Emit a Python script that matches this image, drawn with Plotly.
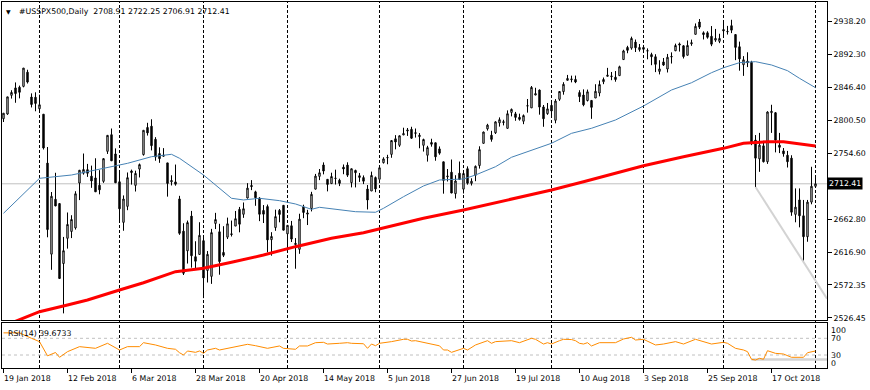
import pandas as pd
import plotly.graph_objects as go

# ---------------- DATA ----------------
symbol_title = "#USSPX500,Daily"
last_ohlc_text = "2708.91 2722.25 2706.91 2712.41"
rsi_title = "RSI(14) 39.6733"
bid_price = 2712.41
bid_text = "2712.41"

# trading bars: weekdays 19 Jan 2018 .. 1 Nov 2018, Good Friday closed
first_day, last_day = "2018-01-19", "2018-11-01"
closed_days = ["2018-03-30"]

opens = [
    2802.6, 2809.2, 2835.1, 2845.4, 2846.3, 2847.5, 2867.2, 2832.7, 2832.4, 2816.5,
    2808.9, 2741.1, 2614.8, 2690.9, 2685.0, 2601.8, 2636.8, 2646.3, 2651.2, 2713.5,
    2727.1, 2732.0, 2723.0, 2720.5, 2710.4, 2715.8, 2757.4, 2780.5, 2753.8, 2715.2,
    2658.9, 2681.1, 2730.2, 2710.2, 2732.8, 2752.9, 2790.5, 2792.3, 2774.1, 2754.3,
    2750.6, 2741.4, 2715.1, 2715.0, 2691.4, 2646.7, 2619.4, 2667.6, 2611.3, 2614.4,
    2633.5, 2592.2, 2584.0, 2657.4, 2645.8, 2617.2, 2638.4, 2643.0, 2653.8, 2676.9,
    2670.1, 2692.7, 2710.1, 2701.2, 2692.6, 2675.4, 2680.8, 2634.9, 2651.7, 2675.5,
    2682.5, 2643.0, 2654.2, 2628.1, 2621.5, 2680.3, 2670.3, 2678.1, 2705.0, 2722.7,
    2738.5, 2718.6, 2712.6, 2719.7, 2717.4, 2735.4, 2738.3, 2714.0, 2730.9, 2723.6,
    2721.0, 2705.1, 2702.4, 2721.0, 2718.7, 2741.7, 2748.5, 2753.2, 2774.8, 2765.8,
    2780.2, 2785.6, 2787.9, 2783.2, 2777.8, 2765.8, 2752.0, 2769.7, 2769.3, 2760.8,
    2742.9, 2722.1, 2728.5, 2698.7, 2727.1, 2705.0, 2733.3, 2713.0, 2724.2, 2737.7,
    2768.5, 2788.6, 2779.8, 2783.1, 2796.9, 2797.4, 2789.3, 2811.4, 2809.4, 2804.6,
    2799.2, 2820.7, 2817.7, 2835.5, 2842.4, 2819.0, 2809.7, 2821.2, 2800.5, 2829.6,
    2840.3, 2855.9, 2856.8, 2857.2, 2838.9, 2835.5, 2827.9, 2828.0, 2831.4, 2838.3,
    2853.9, 2861.5, 2861.0, 2860.3, 2862.4, 2884.7, 2901.5, 2900.6, 2908.9, 2898.4,
    2901.5, 2897.0, 2891.6, 2888.6, 2868.3, 2881.4, 2871.6, 2888.3, 2896.9, 2906.4,
    2903.8, 2890.7, 2906.6, 2919.7, 2936.8, 2921.8, 2921.8, 2917.0, 2911.7, 2910.0,
    2926.3, 2923.8, 2931.7, 2919.4, 2902.5, 2877.5, 2882.5, 2881.0, 2773.0, 2747.0,
    2765.0, 2743.0, 2811.0, 2811.0, 2766.0, 2758.0, 2752.0, 2748.0, 2670.0, 2690.0,
    2668.0, 2639.0, 2687.0, 2708.91,
]
highs = [
    2810.3, 2833.0, 2842.2, 2853.0, 2848.6, 2872.9, 2870.6, 2837.8, 2839.3, 2836.0,
    2808.9, 2763.4, 2701.0, 2727.7, 2685.3, 2638.7, 2672.6, 2668.8, 2702.1, 2731.5,
    2754.4, 2740.0, 2737.6, 2747.8, 2731.3, 2747.8, 2780.0, 2789.1, 2761.5, 2730.9,
    2696.3, 2728.1, 2732.1, 2730.6, 2740.5, 2786.6, 2797.0, 2801.9, 2777.1, 2763.0,
    2761.9, 2741.4, 2724.2, 2739.1, 2695.7, 2657.7, 2661.4, 2674.8, 2632.7, 2659.1,
    2638.3, 2619.1, 2649.9, 2672.1, 2656.9, 2653.6, 2665.5, 2661.4, 2674.7, 2680.3,
    2686.5, 2713.3, 2717.5, 2702.8, 2693.9, 2682.9, 2683.6, 2645.3, 2676.5, 2677.4,
    2682.9, 2655.3, 2660.9, 2637.1, 2670.9, 2683.4, 2676.3, 2701.3, 2726.1, 2732.9,
    2742.1, 2718.6, 2727.8, 2732.0, 2719.5, 2739.2, 2742.2, 2733.3, 2732.0, 2727.4,
    2724.0, 2710.7, 2729.3, 2722.5, 2736.9, 2749.2, 2752.6, 2772.4, 2779.9, 2779.4,
    2790.2, 2789.8, 2791.5, 2789.1, 2782.8, 2775.0, 2765.1, 2774.9, 2769.3, 2764.2,
    2742.9, 2732.9, 2746.1, 2724.3, 2743.3, 2727.3, 2736.6, 2720.0, 2737.8, 2764.4,
    2784.7, 2795.6, 2785.9, 2799.2, 2804.5, 2801.2, 2814.2, 2816.8, 2812.1, 2809.7,
    2808.6, 2830.0, 2848.0, 2845.6, 2843.2, 2821.7, 2824.5, 2825.8, 2829.9, 2840.4,
    2853.3, 2863.4, 2862.4, 2862.5, 2842.2, 2843.4, 2843.1, 2828.0, 2850.5, 2855.6,
    2859.8, 2873.2, 2867.5, 2868.8, 2876.2, 2898.3, 2903.8, 2916.5, 2912.5, 2906.3,
    2905.0, 2900.2, 2894.2, 2892.1, 2883.8, 2886.9, 2892.5, 2894.7, 2906.8, 2908.3,
    2904.7, 2911.2, 2912.4, 2934.8, 2940.9, 2923.8, 2924.0, 2931.2, 2927.2, 2920.5,
    2937.1, 2931.4, 2939.9, 2919.8, 2909.6, 2889.5, 2894.8, 2883.0, 2780.0, 2783.0,
    2772.0, 2813.0, 2822.0, 2812.0, 2783.0, 2762.0, 2758.0, 2752.0, 2706.0, 2706.0,
    2690.0, 2690.0, 2736.0, 2722.25,
]
lows = [
    2798.1, 2808.1, 2830.6, 2824.8, 2830.9, 2846.2, 2851.5, 2818.3, 2813.0, 2812.7,
    2760.0, 2638.2, 2593.1, 2681.3, 2580.6, 2532.7, 2622.5, 2637.1, 2648.9, 2689.8,
    2725.1, 2722.0, 2706.8, 2701.3, 2697.8, 2713.7, 2753.8, 2744.2, 2713.5, 2659.7,
    2647.3, 2675.8, 2711.3, 2701.7, 2721.2, 2751.5, 2779.3, 2758.7, 2744.4, 2741.5,
    2750.0, 2694.6, 2710.1, 2709.8, 2641.6, 2585.9, 2601.8, 2596.1, 2593.1, 2614.4,
    2553.8, 2575.5, 2573.6, 2649.6, 2586.3, 2610.8, 2635.8, 2639.3, 2653.8, 2645.1,
    2665.2, 2692.1, 2703.6, 2681.9, 2660.6, 2658.0, 2617.3, 2612.7, 2647.2, 2659.0,
    2648.0, 2625.4, 2631.7, 2594.6, 2615.3, 2664.7, 2655.2, 2674.1, 2704.5, 2717.5,
    2725.5, 2701.9, 2712.2, 2711.4, 2709.2, 2725.7, 2721.9, 2707.4, 2707.4, 2715.0,
    2712.0, 2676.8, 2702.4, 2700.7, 2718.7, 2740.5, 2739.5, 2748.5, 2760.2, 2763.6,
    2779.9, 2778.8, 2774.7, 2776.5, 2761.7, 2757.1, 2743.2, 2763.9, 2744.4, 2752.7,
    2698.7, 2715.6, 2699.4, 2692.0, 2718.0, 2699.0, 2711.2, 2710.0, 2716.0, 2733.5,
    2768.5, 2786.2, 2770.8, 2781.5, 2791.7, 2793.4, 2789.2, 2805.9, 2799.8, 2800.0,
    2795.1, 2811.1, 2817.7, 2835.3, 2808.3, 2791.5, 2808.1, 2805.9, 2796.3, 2827.4,
    2836.0, 2855.9, 2853.1, 2852.0, 2825.8, 2819.9, 2826.6, 2802.5, 2831.4, 2833.7,
    2850.6, 2861.3, 2856.1, 2854.0, 2862.4, 2884.7, 2893.5, 2898.4, 2895.2, 2895.8,
    2895.0, 2885.1, 2876.9, 2867.3, 2864.1, 2875.9, 2866.8, 2879.2, 2896.4, 2895.8,
    2886.2, 2890.4, 2903.8, 2919.7, 2927.1, 2912.6, 2913.7, 2903.3, 2909.3, 2907.5,
    2917.9, 2919.4, 2921.4, 2883.9, 2869.3, 2862.1, 2874.3, 2766.0, 2708.0, 2729.0,
    2742.0, 2740.0, 2783.0, 2756.0, 2755.0, 2750.0, 2735.0, 2668.0, 2659.0, 2652.0,
    2604.0, 2632.0, 2684.0, 2706.91,
]
closes = [
    2810.3, 2833.0, 2839.1, 2837.5, 2839.3, 2872.9, 2853.5, 2822.4, 2823.8, 2822.0,
    2762.1, 2648.9, 2695.1, 2681.7, 2581.0, 2619.6, 2656.0, 2662.9, 2698.6, 2731.2,
    2732.2, 2727.0, 2716.3, 2701.3, 2704.0, 2747.3, 2779.6, 2744.3, 2713.8, 2677.7,
    2691.3, 2720.9, 2728.1, 2726.8, 2739.0, 2786.6, 2783.0, 2765.3, 2749.5, 2747.3,
    2752.0, 2712.9, 2716.9, 2711.9, 2643.7, 2588.3, 2658.6, 2612.6, 2605.0, 2640.9,
    2581.9, 2614.5, 2644.7, 2662.8, 2604.5, 2613.2, 2656.9, 2642.2, 2664.0, 2656.3,
    2677.8, 2706.4, 2708.6, 2693.1, 2670.1, 2670.3, 2634.6, 2639.4, 2666.9, 2669.9,
    2648.1, 2654.8, 2635.7, 2629.7, 2663.4, 2672.6, 2671.9, 2697.8, 2723.1, 2727.7,
    2730.1, 2711.5, 2722.5, 2720.1, 2713.0, 2733.0, 2724.4, 2733.3, 2727.8, 2721.3,
    2716.0, 2689.9, 2724.0, 2705.3, 2734.6, 2746.9, 2748.8, 2772.4, 2770.4, 2779.0,
    2782.0, 2786.9, 2775.6, 2782.5, 2779.7, 2773.8, 2762.6, 2767.3, 2749.8, 2754.9,
    2717.1, 2723.1, 2699.6, 2716.3, 2718.4, 2726.7, 2713.2, 2716.0, 2736.6, 2759.8,
    2784.2, 2793.8, 2774.0, 2798.3, 2801.3, 2798.4, 2809.6, 2815.6, 2804.5, 2801.8,
    2807.0, 2820.4, 2846.1, 2837.4, 2818.8, 2802.6, 2816.3, 2813.4, 2827.2, 2840.4,
    2850.4, 2858.5, 2857.7, 2853.6, 2833.3, 2821.9, 2840.0, 2818.4, 2840.7, 2850.1,
    2857.1, 2863.0, 2861.8, 2857.0, 2874.7, 2896.7, 2897.5, 2914.0, 2901.1, 2901.5,
    2899.0, 2896.7, 2888.6, 2878.1, 2871.7, 2877.1, 2887.9, 2888.9, 2904.2, 2905.0,
    2888.8, 2904.3, 2908.0, 2930.8, 2929.7, 2919.4, 2915.6, 2906.0, 2914.0, 2914.0,
    2924.6, 2923.4, 2925.5, 2901.6, 2885.6, 2884.4, 2880.3, 2769.0, 2748.0, 2766.0,
    2743.0, 2812.0, 2813.0, 2773.0, 2763.0, 2754.0, 2743.0, 2673.0, 2680.0, 2668.0,
    2639.0, 2687.0, 2709.0, 2712.41,
]

ma50_dates = ["2018-01-19", "2018-02-01", "2018-02-13", "2018-02-23", "2018-03-05",
              "2018-03-13", "2018-03-20", "2018-03-22", "2018-04-02", "2018-04-11",
              "2018-04-16", "2018-04-20", "2018-04-27", "2018-05-03", "2018-05-09",
              "2018-05-11", "2018-05-18", "2018-05-24", "2018-05-31", "2018-06-04",
              "2018-06-11", "2018-06-18", "2018-06-22", "2018-07-02", "2018-07-05",
              "2018-07-12", "2018-07-18", "2018-07-25", "2018-08-01", "2018-08-08",
              "2018-08-15", "2018-08-23", "2018-09-03", "2018-09-12", "2018-09-19",
              "2018-09-26", "2018-10-01", "2018-10-05", "2018-10-11", "2018-10-17",
              "2018-10-23", "2018-10-26", "2018-11-01"]
ma50_values = [2671.5, 2720.0, 2724.6, 2734.0, 2740.8,
               2750.0, 2753.3, 2747.8, 2724.6, 2692.3,
               2690.0, 2692.3, 2689.0, 2684.4, 2677.0,
               2679.8, 2676.0, 2673.7, 2672.9, 2678.4,
               2694.5, 2709.4, 2717.7, 2719.1, 2724.6,
               2736.1, 2749.2, 2759.0, 2768.6, 2782.4,
               2789.4, 2800.9, 2820.3, 2842.5, 2852.6,
               2866.5, 2873.4, 2880.4, 2881.8, 2877.2,
               2869.3, 2858.7, 2845.7]

ma200_dates = ["2018-01-19", "2018-01-25", "2018-02-01", "2018-02-12", "2018-02-19",
               "2018-03-01", "2018-03-09", "2018-03-21", "2018-04-02", "2018-04-11",
               "2018-04-23", "2018-05-03", "2018-05-16", "2018-05-28", "2018-06-06",
               "2018-06-18", "2018-07-02", "2018-07-18", "2018-08-01", "2018-08-13",
               "2018-08-23", "2018-09-03", "2018-09-17", "2018-10-01", "2018-10-08",
               "2018-10-16", "2018-10-22", "2018-10-26", "2018-11-01"]
ma200_values = [2515.0, 2523.5, 2535.0, 2544.3, 2551.2,
                2565.1, 2575.2, 2590.5, 2595.2, 2603.5,
                2613.6, 2625.2, 2636.8, 2644.6, 2653.9,
                2664.5, 2676.0, 2690.9, 2703.8, 2715.3,
                2726.9, 2737.5, 2750.0, 2761.6, 2768.6,
                2770.8, 2770.8, 2767.6, 2764.8]

rsi_dates = ["2018-01-19", "2018-01-25", "2018-01-30", "2018-02-01", "2018-02-05",
             "2018-02-07", "2018-02-08", "2018-02-12", "2018-02-15", "2018-02-21",
             "2018-02-26", "2018-03-01", "2018-03-05", "2018-03-08", "2018-03-09",
             "2018-03-14", "2018-03-19", "2018-03-21", "2018-03-22", "2018-03-23",
             "2018-03-26", "2018-03-28", "2018-03-29", "2018-04-02", "2018-04-03",
             "2018-04-05", "2018-04-06", "2018-04-11", "2018-04-17", "2018-04-19",
             "2018-04-24", "2018-04-27", "2018-04-30", "2018-05-03", "2018-05-04",
             "2018-05-08", "2018-05-10", "2018-05-14", "2018-05-15", "2018-05-18",
             "2018-05-22", "2018-05-23", "2018-05-25", "2018-05-28", "2018-05-29",
             "2018-05-30", "2018-05-31", "2018-06-01", "2018-06-06", "2018-06-11",
             "2018-06-12", "2018-06-13", "2018-06-14", "2018-06-19", "2018-06-21",
             "2018-06-22", "2018-06-25", "2018-06-26", "2018-06-27", "2018-06-29",
             "2018-07-02", "2018-07-03", "2018-07-05", "2018-07-10", "2018-07-11",
             "2018-07-12", "2018-07-18", "2018-07-20", "2018-07-25", "2018-07-26",
             "2018-07-30", "2018-07-31", "2018-08-01", "2018-08-03", "2018-08-06",
             "2018-08-08", "2018-08-09", "2018-08-10", "2018-08-13", "2018-08-14",
             "2018-08-15", "2018-08-17", "2018-08-23", "2018-08-27", "2018-08-29",
             "2018-08-30", "2018-09-03", "2018-09-06", "2018-09-10", "2018-09-13",
             "2018-09-17", "2018-09-20", "2018-09-24", "2018-09-26", "2018-10-01",
             "2018-10-02", "2018-10-04", "2018-10-08", "2018-10-09", "2018-10-10",
             "2018-10-11", "2018-10-12", "2018-10-15", "2018-10-16", "2018-10-18",
             "2018-10-22", "2018-10-24", "2018-10-29", "2018-10-30", "2018-11-01"]
rsi_values = [83.0, 83.0, 70.0, 62.0, 28.0,
              36.0, 24.5, 38.0, 50.0, 46.0,
              58.0, 42.0, 50.0, 50.0, 59.5,
              54.0, 46.0, 43.7, 35.5, 30.0,
              39.6, 36.4, 39.6, 34.0, 42.0,
              46.0, 42.0, 47.5, 55.6, 52.3,
              46.0, 51.6, 46.0, 43.7, 51.6,
              51.6, 59.5, 60.4, 56.3, 58.0,
              59.5, 58.0, 56.3, 57.0, 46.0,
              56.3, 52.3, 58.0, 62.0, 67.6,
              67.6, 63.5, 64.3, 58.0, 54.0,
              52.0, 42.0, 42.0, 36.4, 42.0,
              46.0, 42.0, 54.0, 64.3, 58.0,
              62.0, 64.3, 59.5, 70.0, 67.6,
              56.3, 59.5, 56.3, 64.3, 67.6,
              67.0, 64.3, 58.0, 56.3, 59.5,
              51.6, 59.5, 59.5, 68.3, 72.4,
              65.9, 67.6, 54.0, 56.3, 62.0,
              56.3, 67.6, 62.0, 56.3, 60.4,
              58.0, 46.0, 42.0, 38.0, 19.7,
              18.0, 22.0, 19.7, 40.3, 34.0,
              32.4, 24.5, 24.5, 35.5, 39.67]
rsi_levels = [70, 30]
rsi_level_labels = ["100", "70", "30", "0"]

# trendline (from the 11 Oct low) and RSI support line
trend_start_date, trend_start_price, trend_end_price = "2018-10-11", 2708.0, 2553.0
rsi_hline_start_date, rsi_hline_value = "2018-10-10", 19.0

price_tick_labels = ["2938.20", "2892.30", "2846.40", "2800.50", "2754.60",
                     "2662.80", "2616.90", "2572.35", "2526.45"]
date_tick_labels = ["19 Jan 2018", "12 Feb 2018", "6 Mar 2018", "28 Mar 2018",
                    "20 Apr 2018", "14 May 2018", "5 Jun 2018", "27 Jun 2018",
                    "19 Jul 2018", "10 Aug 2018", "3 Sep 2018", "25 Sep 2018",
                    "17 Oct 2018"]

# ---------------- BUILD ----------------
bars = [d for d in pd.bdate_range(first_day, last_day)
        if d.strftime("%Y-%m-%d") not in closed_days]
pos = {d.strftime("%Y-%m-%d"): i for i, d in enumerate(bars)}
bar_idx = list(range(len(bars)))
month_starts = [i for i, d in enumerate(bars) if i > 0 and d.month != bars[i - 1].month]
date_tick_pos = [pos[pd.to_datetime(s, format="%d %b %Y").strftime("%Y-%m-%d")]
                 for s in date_tick_labels]

FONT = "DejaVu Sans"
FS = 7.8
W, H = 870, 390
ML, MR, MT, MB = 2, 43, 2, 22
PW, PH = W - ML - MR, H - MT - MB


def px_x(x):
    return (x - ML) / PW


def px_y(y):
    return (H - MB - y) / PH


fig = go.Figure()
fig.add_trace(go.Candlestick(
    x=bar_idx, open=opens, high=highs, low=lows, close=closes,
    xaxis="x", yaxis="y", whiskerwidth=0,
    increasing=dict(line=dict(color="black", width=1), fillcolor="white"),
    decreasing=dict(line=dict(color="black", width=1), fillcolor="black"),
    showlegend=False, hoverinfo="skip"))
fig.add_trace(go.Scatter(
    x=[pos[d] for d in ma50_dates], y=ma50_values, mode="lines",
    line=dict(color="#4682B4", width=1), xaxis="x", yaxis="y",
    showlegend=False, hoverinfo="skip"))
fig.add_trace(go.Scatter(
    x=[pos[d] for d in ma200_dates], y=ma200_values, mode="lines",
    line=dict(color="#FF0000", width=3), xaxis="x", yaxis="y",
    showlegend=False, hoverinfo="skip"))
fig.add_trace(go.Scatter(
    x=[pos[d] for d in rsi_dates], y=rsi_values, mode="lines",
    line=dict(color="#FF8C00", width=1), xaxis="x2", yaxis="y2",
    showlegend=False, hoverinfo="skip"))

# half-pixel offset so 1px strokes land on whole pixels
x_range = [-0.375, 205.875]
shapes = []
for m in month_starts:
    shapes.append(dict(type="line", xref="x", yref="paper", x0=m, x1=m, y0=0, y1=1,
                       line=dict(color="black", width=1, dash="3px,2px"), layer="below"))
shapes.append(dict(type="line", xref="paper", yref="y", x0=0, x1=1, y0=bid_price, y1=bid_price,
                   line=dict(color="#C0C0C0", width=1), layer="below"))
for lv in rsi_levels:
    shapes.append(dict(type="line", xref="paper", yref="y2", x0=0, x1=1, y0=lv, y1=lv,
                       line=dict(color="#C0C0C0", width=1, dash="3px,3px"), layer="below"))
shapes.append(dict(type="line", xref="x", yref="y", x0=pos[trend_start_date], y0=trend_start_price,
                   x1=x_range[1], y1=trend_end_price,
                   line=dict(color="#D3D3D3", width=2), layer="above"))
shapes.append(dict(type="line", xref="x2", yref="y2", x0=pos[rsi_hline_start_date], x1=x_range[1],
                   y0=rsi_hline_value, y1=rsi_hline_value,
                   line=dict(color="#D3D3D3", width=2.5), layer="below"))

annotations = [
    dict(xref="paper", yref="paper", x=px_x(4), y=px_y(11), text="\u25BC", showarrow=False,
         xanchor="left", yanchor="middle", font=dict(family=FONT, size=6, color="black")),
    dict(xref="paper", yref="paper", x=px_x(17), y=px_y(11),
         text=symbol_title + "\u00a0\u00a0" + last_ohlc_text, showarrow=False,
         xanchor="left", yanchor="middle", font=dict(family=FONT, size=FS, color="black")),
    dict(xref="paper", yref="paper", x=px_x(6), y=px_y(333), text=rsi_title, showarrow=False,
         xanchor="left", yanchor="middle", font=dict(family=FONT, size=FS, color="black")),
    dict(xref="paper", yref="y", x=1, y=bid_price, text=bid_text, showarrow=False,
         xanchor="left", yanchor="middle", xshift=0, bgcolor="black", borderpad=1,
         font=dict(family=FONT, size=FS, color="white")),
]
for lab, yy in zip(rsi_level_labels, [330.5, 338.5, 355, 363]):
    annotations.append(dict(xref="paper", yref="paper", x=px_x(829), y=px_y(yy), text=lab,
                            showarrow=False, xanchor="left", yanchor="middle",
                            font=dict(family=FONT, size=FS, color="black")))
for lab, p in zip(date_tick_labels, date_tick_pos):
    annotations.append(dict(xref="x2", yref="paper", x=p, y=px_y(378), text=lab,
                            showarrow=False, xanchor="left", yanchor="middle", xshift=-2,
                            font=dict(family=FONT, size=FS, color="black")))

main_bottom = px_y(320)
rsi_top = px_y(323)
price_lo = 2938.2 - (320 - 21) * 1.387
price_hi = 2938.2 + (21 - MT) * 1.387
rsi_lo = 70 - (368 - 338.3) / 0.4175
rsi_hi = 70 + (338.3 - 323) / 0.4175

fig.update_layout(
    width=W, height=H, margin=dict(l=ML, r=MR, t=MT, b=MB, pad=0),
    paper_bgcolor="white", plot_bgcolor="white", boxgap=0.5,
    font=dict(family=FONT, size=FS, color="black"),
    showlegend=False, shapes=shapes, annotations=annotations, hovermode=False,
    xaxis=dict(domain=[0, 1], range=x_range, anchor="y", showticklabels=False, ticks="",
               showgrid=False, zeroline=False, showline=True, mirror=True,
               linecolor="black", linewidth=1, rangeslider=dict(visible=False), fixedrange=True),
    yaxis=dict(domain=[main_bottom, 1], range=[price_lo, price_hi], side="right",
               tickvals=[float(t) for t in price_tick_labels], ticktext=price_tick_labels,
               ticks="outside", ticklen=4, tickcolor="black", showgrid=False, zeroline=False,
               showline=True, mirror=True, linecolor="black", linewidth=1,
               tickfont=dict(family=FONT, size=FS, color="black")),
    xaxis2=dict(domain=[0, 1], range=x_range, anchor="y2", tickvals=date_tick_pos,
                showticklabels=False, ticks="outside", ticklen=4, tickcolor="black",
                showgrid=False, zeroline=False, showline=True, mirror=True,
                linecolor="black", linewidth=1),
    yaxis2=dict(domain=[0, rsi_top], range=[rsi_lo, rsi_hi], side="right",
                showticklabels=False, ticks="", showgrid=False, zeroline=False,
                showline=True, mirror=True, linecolor="black", linewidth=1),
)

fig.write_html("out.html", config={"displayModeBar": False, "staticPlot": True},
               post_script="document.body.style.margin='0px';")
